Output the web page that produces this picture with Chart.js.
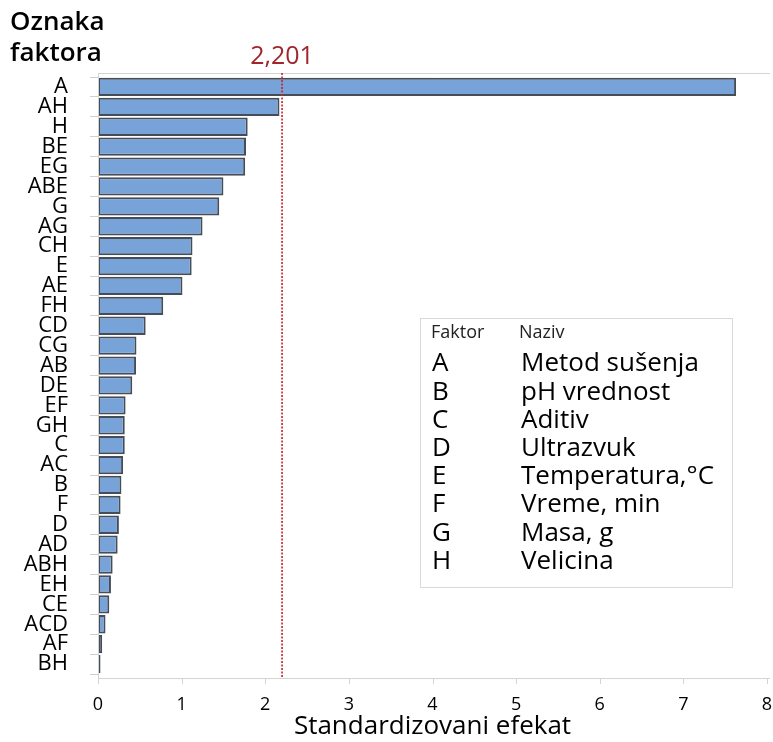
<!DOCTYPE html>
<html>
<head>
<meta charset="utf-8">
<script src="https://cdn.jsdelivr.net/npm/chart.js@4.4.1/dist/chart.umd.min.js"></script>
<style>
  body { margin: 0; background: #fff; }
</style>
</head>
<body>
<canvas id="pareto" width="773" height="742"></canvas>
<script>
// effects, sorted like the reference (largest on top)
const effect_labels = ['A', 'AH', 'H', 'BE', 'EG', 'ABE', 'G', 'AG', 'CH', 'E',
    'AE', 'FH', 'CD', 'CG', 'AB', 'DE', 'EF', 'GH', 'C', 'AC',
    'B', 'F', 'D', 'AD', 'ABH', 'EH', 'CE', 'ACD', 'AF', 'BH'];
const effect_values = [7.63, 2.17, 1.79, 1.77, 1.76, 1.50, 1.45, 1.25, 1.13, 1.12,
    1.01, 0.78, 0.57, 0.46, 0.455, 0.41, 0.33, 0.32, 0.32, 0.30,
    0.28, 0.27, 0.25, 0.235, 0.175, 0.155, 0.135, 0.09, 0.05, 0.03];
const critical_value = 2.201;

const factor_codes = ['A', 'B', 'C', 'D', 'E', 'F', 'G', 'H'];
const factor_names = ['Metod sušenja', 'pH vrednost', 'Aditiv', 'Ultrazvuk',
    'Temperatura,°C', 'Vreme, min', 'Masa, g', 'Velicina'];

const font_family = "'Open Sans', 'Noto Sans', sans-serif";
Chart.defaults.font.family = font_family;
Chart.defaults.color = '#000';

// frame, reference line, header text and the factor table
const extrasPlugin = {
    id: 'extras',
    afterDatasetsDraw(chart) {
        const ctx = chart.ctx;
        const area = chart.chartArea;
        const x = chart.scales.x;
        const top = area.top - 4;
        const bottom = area.bottom + 4;
        ctx.save();

        // light frame: top, left, bottom
        ctx.strokeStyle = '#d4d4d4';
        ctx.lineWidth = 1;
        ctx.beginPath();
        ctx.moveTo(area.left + 0.5, top + 0.5);
        ctx.lineTo(area.right + 3, top + 0.5);
        ctx.moveTo(area.left + 0.5, top);
        ctx.lineTo(area.left + 0.5, bottom);
        ctx.moveTo(area.left, bottom + 0.5);
        ctx.lineTo(area.right + 3, bottom + 0.5);
        // x tick marks
        x.ticks.forEach(t => {
            const px = Math.round(x.getPixelForValue(t.value)) + 0.5;
            ctx.moveTo(px, bottom);
            ctx.lineTo(px, bottom + 6);
        });
        ctx.stroke();

        // dotted critical value line
        const cx = x.getPixelForValue(critical_value);
        ctx.strokeStyle = '#c8202a';
        ctx.lineWidth = 1.6;
        ctx.setLineDash([2, 1.5]);
        ctx.beginPath();
        ctx.moveTo(cx, top);
        ctx.lineTo(cx, bottom);
        ctx.stroke();
        ctx.setLineDash([]);

        ctx.fillStyle = '#a1262c';
        ctx.font = '25px ' + font_family;
        ctx.textAlign = 'center';
        ctx.textBaseline = 'middle';
        ctx.fillText(critical_value.toString().replace('.', ','), cx, 57);

        // y axis title
        ctx.fillStyle = '#000';
        ctx.font = '600 26px ' + font_family;
        ctx.textAlign = 'left';
        ctx.fillText('Oznaka', 10, 23);
        ctx.fillText('faktora', 10, 54);

        // factor table
        ctx.strokeStyle = '#d9d9d9';
        ctx.lineWidth = 1;
        ctx.strokeRect(420.5, 318.5, 312, 269);
        ctx.font = '18px ' + font_family;
        ctx.fillStyle = '#222';
        ctx.fillText('Faktor', 431, 333);
        ctx.fillText('Naziv', 519, 333);
        ctx.fillStyle = '#000';
        ctx.font = '26px ' + font_family;
        factor_codes.forEach((code, i) => {
            const y = 364 + i * 28.2;
            ctx.fillText(code, 432, y);
            ctx.fillText(factor_names[i], 521, y);
        });
        ctx.restore();
    }
};

document.addEventListener('DOMContentLoaded', function() {
    const ctx = document.getElementById('pareto');
    new Chart(ctx, {
        type: 'bar',
        plugins: [extrasPlugin],
        data: {
            labels: effect_labels,
            datasets: [{
                data: effect_values,
                backgroundColor: '#78a3d9',
                borderColor: '#474d57',
                borderWidth: 2,
                borderSkipped: false,
                barPercentage: 0.92,
                categoryPercentage: 1.0
            }]
        },
        options: {
            indexAxis: 'y',
            responsive: false,
            animation: false,
            layout: {
                padding: { top: 77, right: 1, left: 0, bottom: 0 }
            },
            plugins: {
                legend: { display: false },
                tooltip: { enabled: false }
            },
            scales: {
                x: {
                    min: 0,
                    max: 8,
                    grid: { display: false },
                    border: { display: false },
                    ticks: {
                        stepSize: 1,
                        padding: 12,
                        font: { size: 18 }
                    },
                    title: {
                        display: true,
                        text: 'Standardizovani efekat',
                        font: { size: 26 },
                        padding: { top: 0, bottom: 0 }
                    },
                    afterFit(scale) {
                        scale.height = 742 - 674;
                        // tick padding would otherwise widen the right margin
                        scale.paddingRight = 6;
                    }
                },
                y: {
                    grid: {
                        drawOnChartArea: false,
                        tickLength: 8,
                        color: '#cfcfcf'
                    },
                    border: { display: false },
                    ticks: {
                        padding: 22,
                        font: { size: 22 },
                        autoSkip: false
                    },
                    afterFit(scale) {
                        scale.width = 98;
                    }
                }
            }
        }
    });
});
</script>
</body>
</html>
